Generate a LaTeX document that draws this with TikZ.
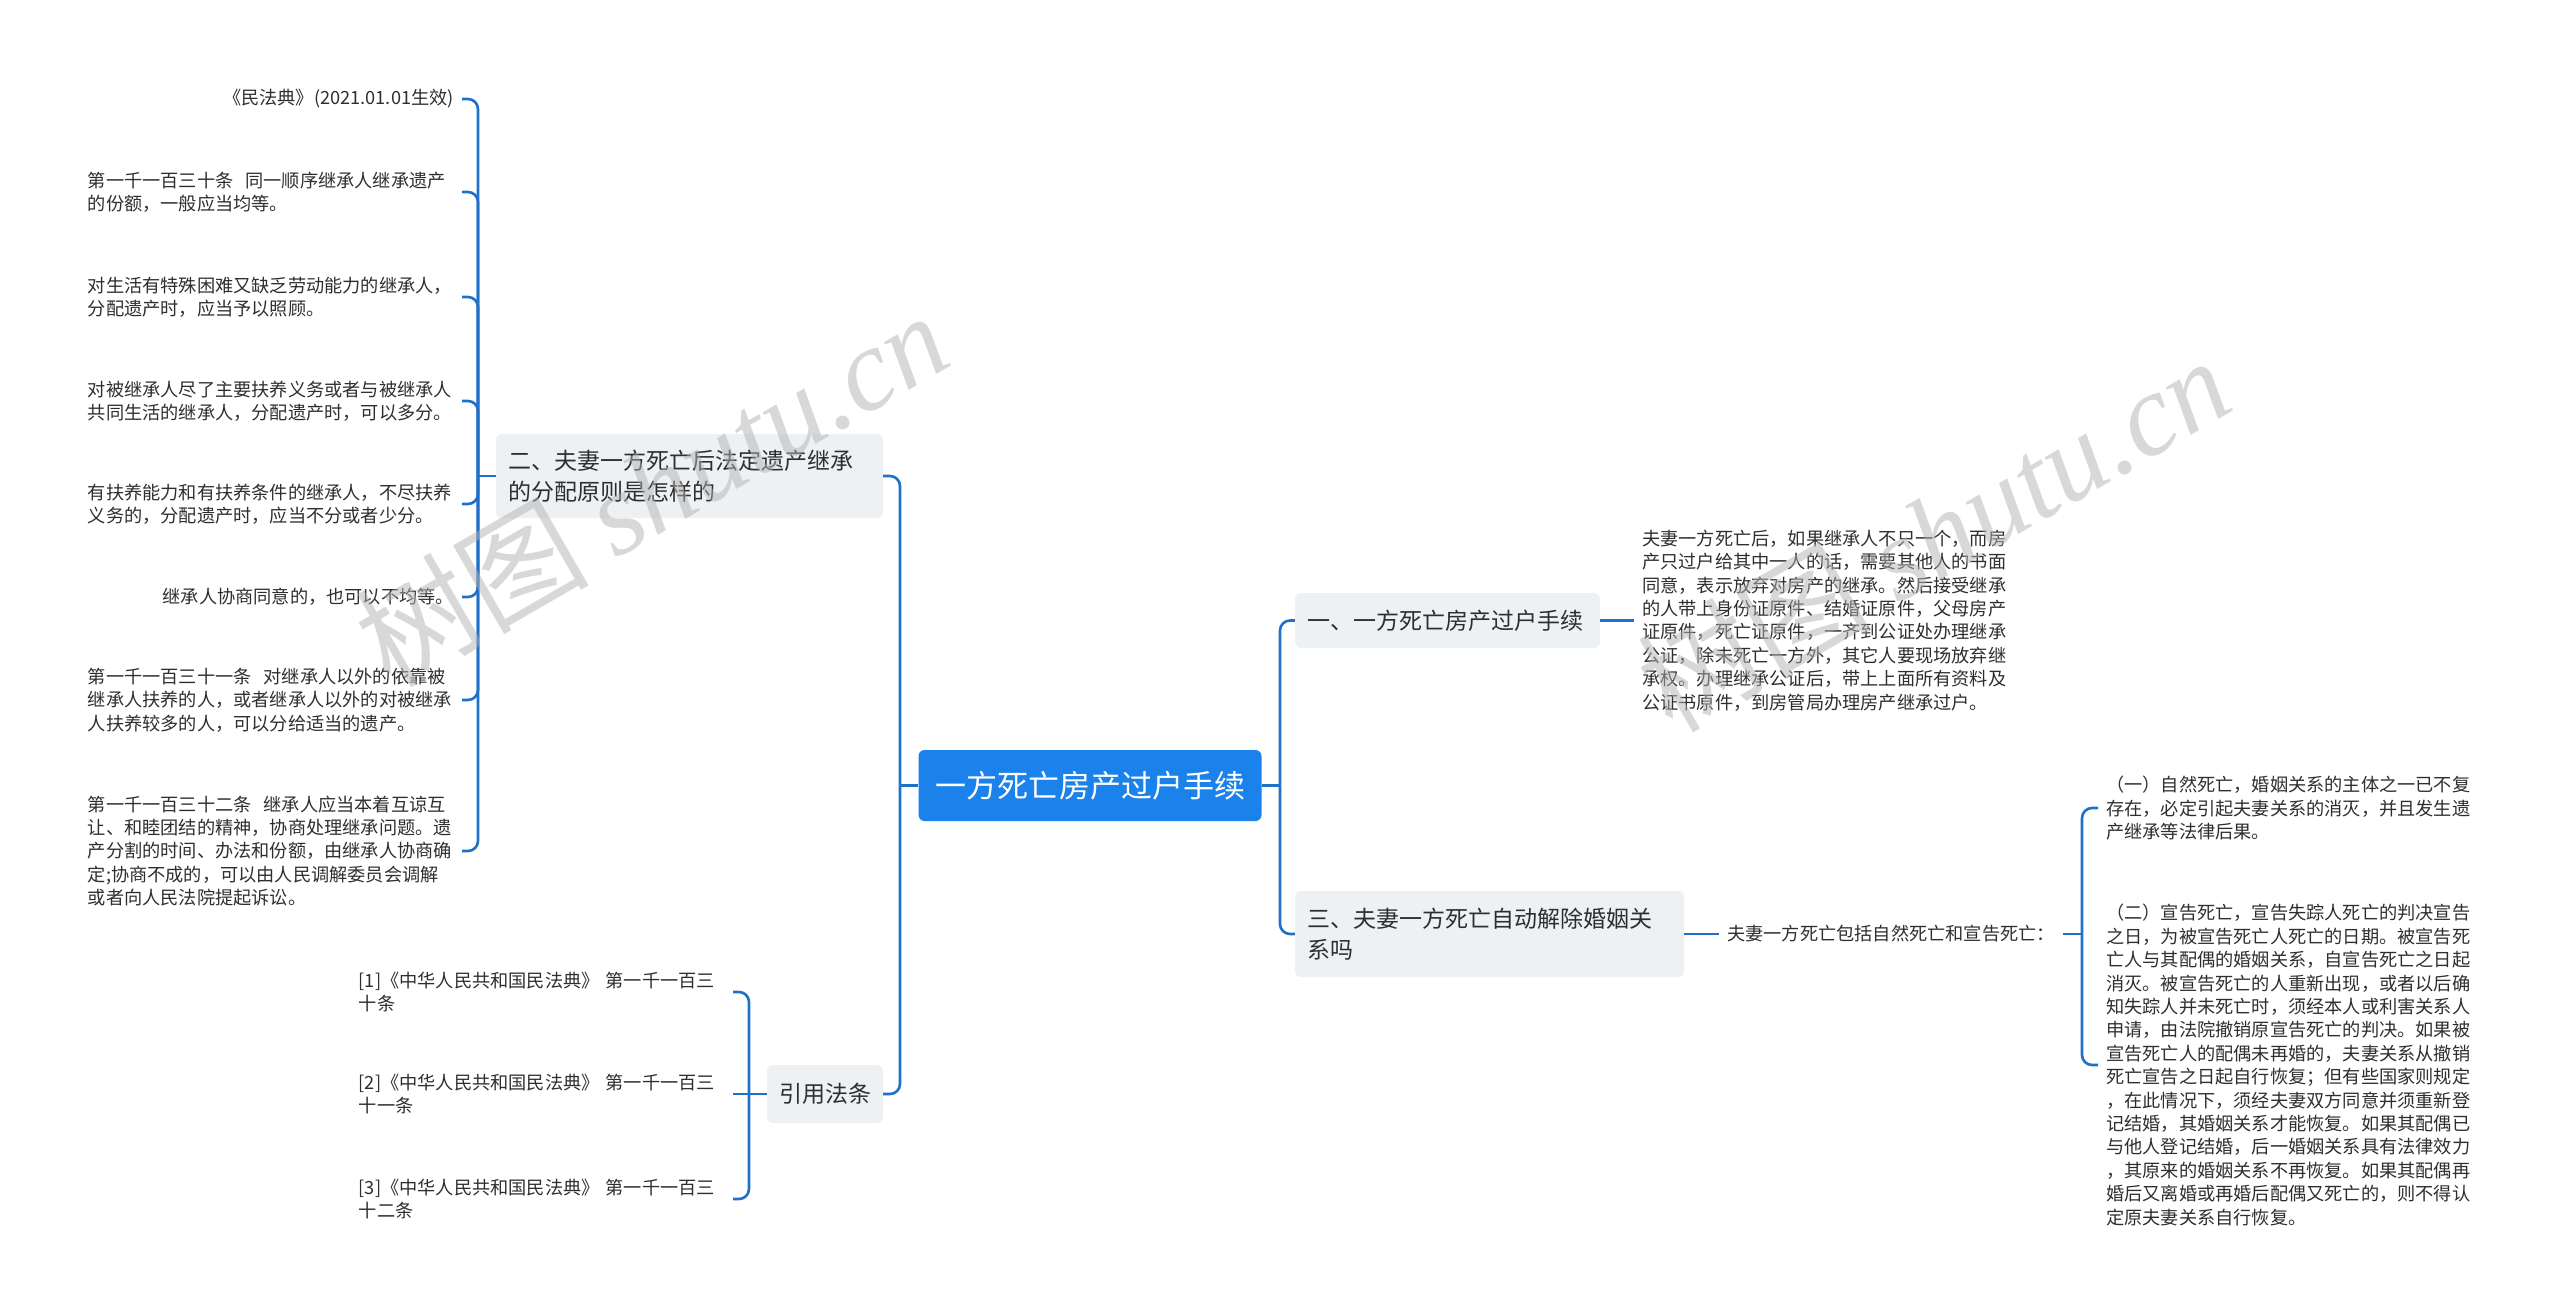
\documentclass[tikz,border=0pt]{standalone}
\usepackage{fontspec}
\newfontfamily\cjk{Noto Sans CJK SC}
\newfontfamily\wmserif{Liberation Serif}

\definecolor{rootblue}{HTML}{1A82EA}
\definecolor{linkblue}{HTML}{1F70C8}
\definecolor{boxgray}{HTML}{EEF1F4}
\definecolor{inkdark}{HTML}{2E2E2E}

\begin{document}
\begin{tikzpicture}[x=1pt, y=-1pt, font=\cjk,
    root/.style={fill=rootblue, text=white, rounded corners=6pt, inner sep=0pt,
                 minimum width=343pt, minimum height=71pt,
                 font=\cjk\fontsize{31}{37}\selectfont},
    topic/.style={fill=boxgray, text=inkdark, rounded corners=6pt, align=left,
                  inner xsep=12pt, inner ysep=0pt,
                  font=\cjk\fontsize{23}{31}\selectfont},
    leaf/.style={text=inkdark, align=left, inner xsep=8pt, inner ysep=1pt,
                 font=\cjk\fontsize{18.2}{23.4}\selectfont},
    wrapped/.style={leaf, text width=366pt},
    link/.style={draw=linkblue, line width=2.6pt, rounded corners=10pt},
    wmark/.style={text=black!30, text opacity=0.5, rotate=30, anchor=base west,
                  inner sep=0pt, font=\cjk\fontsize{117}{122}\selectfont}
  ]
  \useasboundingbox (0,0) rectangle (2560,1315);

  % --- Centre and main topics ------------------------------------------------
  \node[root] (root) at (1090,785.5) {一方死亡房产过户手续};

  \node[topic, text width=363pt, minimum height=84pt] (n2) at (689.5,476)
    {二、夫妻一方死亡后法定遗产继承\\的分配原则是怎样的};
  \node[topic, text width=92pt, minimum height=58pt] (cite) at (825,1094)
    {引用法条};
  \node[topic, text width=281pt, minimum height=55pt] (n1) at (1447.5,620.5)
    {一、一方死亡房产过户手续};
  \node[topic, text width=365pt, minimum height=86pt] (n3) at (1489.5,934)
    {三、夫妻一方死亡自动解除婚姻关\\系吗};

  \coordinate (jl) at (900,785.5);
  \coordinate (jr) at (1280,785.5);
  \coordinate (j2) at (478,476);
  \coordinate (jc) at (749,1094);
  \coordinate (j3) at (2082,934);

  % --- Left: distribution rules ---------------------------------------------
  \node[leaf, anchor=east] (c1) at (462,99) {《民法典》(2021.01.01生效)};
  \node[wrapped, anchor=east] (c2) at (462,192)
    {第一千一百三十条\ \ 同一顺序继承人继承遗产\\的份额，一般应当均等。};
  \node[wrapped, anchor=east] (c3) at (462,297)
    {对生活有特殊困难又缺乏劳动能力的继承人，\\分配遗产时，应当予以照顾。};
  \node[wrapped, anchor=east] (c4) at (462,401)
    {对被继承人尽了主要扶养义务或者与被继承人\\共同生活的继承人，分配遗产时，可以多分。};
  \node[wrapped, anchor=east] (c5) at (462,504)
    {有扶养能力和有扶养条件的继承人，不尽扶养\\义务的，分配遗产时，应当不分或者少分。};
  \node[leaf, anchor=east] (c6) at (462,597) {继承人协商同意的，也可以不均等。};
  \node[wrapped, anchor=east] (c7) at (462,700)
    {第一千一百三十一条\ \ 对继承人以外的依靠被\\继承人扶养的人，或者继承人以外的对被继承\\人扶养较多的人，可以分给适当的遗产。};
  \node[wrapped, anchor=east] (c8) at (462,851)
    {第一千一百三十二条\ \ 继承人应当本着互谅互\\让、和睦团结的精神，协商处理继承问题。遗\\产分割的时间、办法和份额，由继承人协商确\\定;协商不成的，可以由人民调解委员会调解\\或者向人民法院提起诉讼。};

  % --- Left: cited articles --------------------------------------------------
  \node[wrapped, anchor=east] (r1) at (733,992)
    {[1]《中华人民共和国民法典》 第一千一百三\\十条};
  \node[wrapped, anchor=east] (r2) at (733,1094)
    {[2]《中华人民共和国民法典》 第一千一百三\\十一条};
  \node[wrapped, anchor=east] (r3) at (733,1199)
    {[3]《中华人民共和国民法典》 第一千一百三\\十二条};

  % --- Right: transfer and marriage -----------------------------------------
  \node[leaf, anchor=west] (p1) at (1634,620.5)
    {夫妻一方死亡后，如果继承人不只一个，而房\\产只过户给其中一人的话，需要其他人的书面\\同意，表示放弃对房产的继承。然后接受继承\\的人带上身份证原件、结婚证原件，父母房产\\证原件，死亡证原件，一齐到公证处办理继承\\公证，除未死亡一方外，其它人要现场放弃继\\承权。办理继承公证后，带上上面所有资料及\\公证书原件，到房管局办理房产继承过户。};
  \node[leaf, anchor=west] (n3a) at (1719,934)
    {夫妻一方死亡包括自然死亡和宣告死亡：};
  \node[leaf, anchor=west] (d1) at (2098,808)
    {（一）自然死亡，婚姻关系的主体之一已不复\\存在，必定引起夫妻关系的消灭，并且发生遗\\产继承等法律后果。};
  \node[leaf, anchor=west] (d2) at (2098,1065)
    {（二）宣告死亡，宣告失踪人死亡的判决宣告\\之日，为被宣告死亡人死亡的日期。被宣告死\\亡人与其配偶的婚姻关系，自宣告死亡之日起\\消灭。被宣告死亡的人重新出现，或者以后确\\知失踪人并未死亡时，须经本人或利害关系人\\申请，由法院撤销原宣告死亡的判决。如果被\\宣告死亡人的配偶未再婚的，夫妻关系从撤销\\死亡宣告之日起自行恢复；但有些国家则规定\\，在此情况下，须经夫妻双方同意并须重新登\\记结婚，其婚姻关系才能恢复。如果其配偶已\\与他人登记结婚，后一婚姻关系具有法律效力\\，其原来的婚姻关系不再恢复。如果其配偶再\\婚后又离婚或再婚后配偶又死亡的，则不得认\\定原夫妻关系自行恢复。};

  % --- Connectors ------------------------------------------------------------
  \draw[link] (root.west) -- (jl);
  \draw[link] (jl) |- (n2.east);
  \draw[link] (jl) |- (cite.east);
  \draw[link] (root.east) -- (jr);
  \draw[link] (jr) |- (n1.west);
  \draw[link] (jr) |- (n3.west);

  \draw[link] (n2.west) -- (j2);
  \foreach \c in {c1,c2,c3,c4,c5,c6,c7,c8}
    \draw[link] (j2) |- (\c.east);

  \draw[link] (cite.west) -- (jc);
  \draw[link] (jc) |- (r1.east);
  \draw[link] (jc) -- (r2.east);
  \draw[link] (jc) |- (r3.east);

  \draw[link] (n1.east) -- (p1.west);
  \draw[link] (n3.east) -- (n3a.west);
  \draw[link] (n3a.east) -- (j3);
  \draw[link] (j3) |- (d1.west);
  \draw[link] (j3) |- (d2.west);

  % watermark
  \node[wmark] (wm1) at (390,690) {树图 {\wmserif\itshape shutu.cn}};
  \node[wmark] (wm2) at (1672,735) {树图 {\wmserif\itshape shutu.cn}};
\end{tikzpicture}
\end{document}
